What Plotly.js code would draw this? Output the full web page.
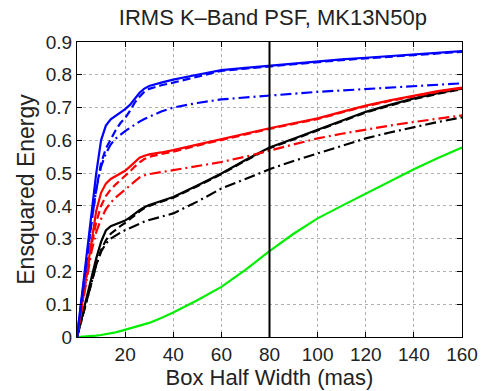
<!DOCTYPE html>
<html>
<head>
<meta charset="utf-8">
<script src="https://cdn.plot.ly/plotly-3.0.1.min.js"></script>
<style>
html,body{margin:0;padding:0;background:#fff;}
#chart{width:483px;height:391px;}
</style>
</head>
<body>
<div id="chart"></div>
<script>
// Box half width (mas)
var boxHalfWidth = [0, 2, 4, 6, 8, 10, 12, 14, 16, 18, 20, 22, 24, 26, 28, 30, 35, 40, 50, 60, 70, 80, 90, 100, 110, 120, 130, 140, 150, 160];

var blueSolid   = [0, 0.13, 0.26, 0.39, 0.50, 0.60, 0.645, 0.664, 0.674, 0.684, 0.695, 0.708, 0.728, 0.745, 0.758, 0.766, 0.776, 0.785, 0.800, 0.814, 0.821, 0.828, 0.835, 0.842, 0.847, 0.852, 0.857, 0.862, 0.867, 0.872];
var blueDashed  = [0, 0.12, 0.24, 0.35, 0.45, 0.53, 0.575, 0.605, 0.630, 0.652, 0.668, 0.690, 0.715, 0.733, 0.748, 0.757, 0.768, 0.776, 0.795, 0.812, 0.819, 0.826, 0.833, 0.840, 0.845, 0.850, 0.855, 0.860, 0.865, 0.870];
var blueDashDot = [0, 0.12, 0.24, 0.35, 0.45, 0.52, 0.560, 0.587, 0.605, 0.618, 0.628, 0.638, 0.648, 0.657, 0.665, 0.672, 0.688, 0.700, 0.714, 0.725, 0.731, 0.737, 0.743, 0.748, 0.752, 0.756, 0.761, 0.766, 0.770, 0.774];

var redSolid    = [0, 0.10, 0.20, 0.30, 0.385, 0.44, 0.468, 0.482, 0.490, 0.497, 0.507, 0.520, 0.535, 0.547, 0.553, 0.557, 0.563, 0.570, 0.587, 0.604, 0.620, 0.637, 0.652, 0.667, 0.687, 0.706, 0.722, 0.737, 0.750, 0.761];
var redDashed   = [0, 0.095, 0.19, 0.28, 0.35, 0.40, 0.430, 0.450, 0.465, 0.478, 0.490, 0.505, 0.520, 0.533, 0.543, 0.550, 0.558, 0.565, 0.584, 0.602, 0.618, 0.635, 0.650, 0.665, 0.685, 0.704, 0.720, 0.735, 0.748, 0.759];
var redDashDot  = [0, 0.09, 0.18, 0.26, 0.32, 0.36, 0.390, 0.410, 0.425, 0.438, 0.450, 0.462, 0.475, 0.487, 0.493, 0.497, 0.503, 0.509, 0.520, 0.534, 0.550, 0.568, 0.588, 0.606, 0.620, 0.633, 0.645, 0.656, 0.666, 0.676];

var blackSolid   = [0, 0.06, 0.12, 0.18, 0.24, 0.29, 0.325, 0.338, 0.343, 0.348, 0.355, 0.365, 0.377, 0.387, 0.396, 0.403, 0.415, 0.427, 0.462, 0.499, 0.540, 0.578, 0.605, 0.632, 0.660, 0.687, 0.708, 0.728, 0.744, 0.758];
var blackDashed  = [0, 0.055, 0.11, 0.165, 0.22, 0.265, 0.295, 0.315, 0.328, 0.338, 0.348, 0.360, 0.372, 0.383, 0.393, 0.400, 0.413, 0.425, 0.460, 0.497, 0.538, 0.576, 0.603, 0.630, 0.658, 0.685, 0.706, 0.726, 0.742, 0.756];
var blackDashDot = [0, 0.055, 0.11, 0.165, 0.22, 0.26, 0.285, 0.300, 0.310, 0.318, 0.326, 0.333, 0.340, 0.346, 0.352, 0.357, 0.367, 0.377, 0.413, 0.453, 0.482, 0.512, 0.537, 0.560, 0.583, 0.606, 0.624, 0.641, 0.656, 0.670];

var greenSolid = [0, 0.0005, 0.001, 0.002, 0.004, 0.006, 0.008, 0.011, 0.014, 0.018, 0.022, 0.025, 0.029, 0.033, 0.038, 0.043, 0.058, 0.075, 0.112, 0.153, 0.205, 0.262, 0.315, 0.362, 0.400, 0.437, 0.476, 0.512, 0.546, 0.578];

var markerX = [80, 80];
var markerY = [0, 0.9];

var xTicks = [20, 40, 60, 80, 100, 120, 140, 160];
var xTickText = ['20', '40', '60', '80', '100', '120', '140', '160'];
var yTicks = [0, 0.1, 0.2, 0.3, 0.4, 0.5, 0.6, 0.7, 0.8, 0.9];
var yTickText = ['0', '0.1', '0.2', '0.3', '0.4', '0.5', '0.6', '0.7', '0.8', '0.9'];

var DASH = '8px,4px';
var DASHDOT = '11px,4px,2px,4px';

function tr(y, color, dash) {
  return {x: boxHalfWidth, y: y, type: 'scatter', mode: 'lines',
          line: {color: color, width: 2.2, dash: dash}, hoverinfo: 'skip'};
}

var traces = [
  tr(greenSolid, '#00ee00', 'solid'),
  tr(blackDashDot, '#000000', DASHDOT),
  tr(blackDashed, '#000000', DASH),
  tr(blackSolid, '#000000', 'solid'),
  tr(redDashDot, '#ff0000', DASHDOT),
  tr(redDashed, '#ff0000', DASH),
  tr(redSolid, '#ff0000', 'solid'),
  tr(blueDashDot, '#0000ff', DASHDOT),
  tr(blueDashed, '#0000ff', DASH),
  tr(blueSolid, '#0000ff', 'solid'),
  {x: markerX, y: markerY, type: 'scatter', mode: 'lines', line: {color: '#000', width: 2}, hoverinfo: 'skip'}
];

var font = {family: 'Liberation Sans, Arial, Helvetica, sans-serif', color: '#222'};

var layout = {
  width: 483, height: 391,
  margin: {l: 77, r: 21, t: 42, b: 54},
  paper_bgcolor: '#fff', plot_bgcolor: '#fff',
  showlegend: false,
  font: font,
  title: {text: 'IRMS K\u2013Band PSF, MK13N50p', font: {family: font.family, size: 22, color: '#222'},
          x: 0.565, xanchor: 'center', y: 0.955, yanchor: 'middle'},
  xaxis: {
    range: [0, 160], tickvals: xTicks, ticktext: xTickText,
    ticks: 'inside', ticklen: 5, tickcolor: '#000', mirror: 'ticks',
    showline: true, linecolor: '#000', linewidth: 1,
    showgrid: true, gridcolor: '#b0b0b0', griddash: 'dot', gridwidth: 1,
    zeroline: false, tickfont: {size: 19, color: '#222'},
    title: {text: 'Box Half Width (mas)', font: {size: 22, color: '#222'}, standoff: 0}
  },
  yaxis: {
    range: [0, 0.9], tickvals: yTicks, ticktext: yTickText,
    ticks: 'inside', ticklen: 5, tickcolor: '#000', mirror: 'ticks',
    showline: true, linecolor: '#000', linewidth: 1,
    showgrid: true, gridcolor: '#b0b0b0', griddash: 'dot', gridwidth: 1,
    zeroline: false, tickfont: {size: 19, color: '#222'},
    title: {text: 'Ensquared Energy', font: {size: 23, color: '#222'}, standoff: 4}
  }
};

Plotly.newPlot('chart', traces, layout, {staticPlot: true, displayModeBar: false});
</script>
</body>
</html>
